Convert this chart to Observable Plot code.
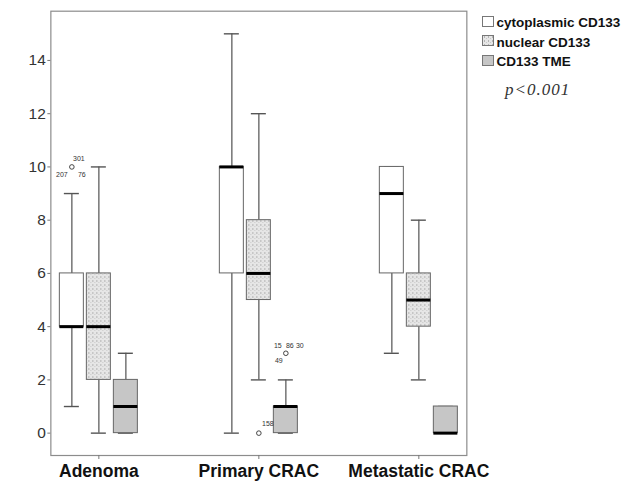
<!DOCTYPE html>
<html>
<head>
<meta charset="utf-8">
<script src="https://cdn.jsdelivr.net/npm/d3@7"></script>
<script src="https://cdn.jsdelivr.net/npm/@observablehq/plot@0.6"></script>
<style>
  html, body { margin: 0; padding: 0; background: #fff; }
  #wrap { position: relative; width: 639px; height: 481px; font-family: "Liberation Sans", Arial, sans-serif; }
  #legend { position: absolute; left: 482px; top: 13.3px; }
  .row { display: flex; align-items: flex-start; height: 19.5px; line-height: 19.5px; font-size: 13.5px; font-weight: bold; color: #111; white-space: nowrap; }
  .sw { width: 12px; height: 11px; margin-top: 2.7px; margin-right: 2.5px; box-sizing: border-box; border: 1px solid #777; }
  #pval { position: absolute; left: 505px; top: 80px; font-family: "Liberation Serif", "Times New Roman", serif; font-style: italic; font-size: 17px; line-height: 20px; letter-spacing: 1px; color: #333; }
</style>
</head>
<body>
<div id="wrap">
  <div id="chart"></div>
  <div id="legend"></div>
  <div id="pval">p&lt;0.001</div>
</div>
<script>
// Categories and series
const categories = ["Adenoma", "Primary CRAC", "Metastatic CRAC"];
const seriesNames = ["cytoplasmic CD133", "nuclear CD133", "CD133 TME"];

// Box-plot statistics per category, in series order
// [low whisker, Q1, median, Q3, high whisker]
const adenomaStats    = [[1, 4, 4, 6, 9], [0, 2, 4, 6, 10], [0, 0, 1, 2, 3]];
const primaryStats    = [[0, 6, 10, 10, 15], [2, 5, 6, 8, 12], [0, 0, 1, 1, 2]];
const metastaticStats = [[3, 6, 9, 10, 10], [2, 4, 5, 6, 8], [0, 0, 0, 1, 1]];

// Outliers: category, series, value, case labels
const outlierCats   = ["Adenoma", "Primary CRAC", "Primary CRAC"];
const outlierSeries = ["cytoplasmic CD133", "nuclear CD133", "CD133 TME"];
const outlierValues = [10, 0, 3];
const outlierIds    = [["301", "207", "76"], ["158"], ["15", "86", "30", "49"]];

const yTicks = [0, 2, 4, 6, 8, 10, 12, 14];
const fills = ["#ffffff", "url(#nucPattern)", "#c6c6c6"];

// Build tables
const statsByCat = [adenomaStats, primaryStats, metastaticStats];
const stats = [];
categories.forEach((cat, ci) => {
  seriesNames.forEach((s, si) => {
    const [low, q1, med, q3, high] = statsByCat[ci][si];
    stats.push({cat, series: s, low, q1, med, q3, high});
  });
});
const outliers = outlierCats.map((cat, i) => ({cat, series: outlierSeries[i], value: outlierValues[i], ids: outlierIds[i]}));
const labels = [];
outliers.forEach(o => o.ids.forEach((id, k) => labels.push({...o, id, k})));

const lab = (pred) => labels.filter(pred);
const labelStyle = {fx: "cat", x: "series", y: "value", text: "id", fontSize: 7, fill: "#333", fontFamily: "Liberation Sans, Arial, sans-serif"};

const plot = Plot.plot({
  width: 639,
  height: 481,
  marginLeft: 35,
  marginRight: 157.3,
  marginTop: 10.7,
  marginBottom: 26,
  style: {fontFamily: "Liberation Sans, Arial, sans-serif", background: "white"},
  fx: {domain: categories, paddingInner: 0.4, paddingOuter: 0.096, round: false, label: null},
  x: {domain: seriesNames, paddingInner: 0.111, paddingOuter: 0.333, round: false, axis: null},
  y: {domain: [-0.84, 15.85], label: null},
  color: {domain: seriesNames, range: fills, type: "ordinal"},
  marks: [
    Plot.frame({stroke: "#8c8c8c", strokeWidth: 1.2, facet: "super"}),
    Plot.axisY({ticks: yTicks, tickSize: 3, tickPadding: 2, fontSize: 15.5, color: "#333", label: null, stroke: "#777"}),
    Plot.axisFx({anchor: "bottom", tickSize: 4, tickPadding: 5, fontSize: 17.5, fontWeight: "bold", fill: "#111", stroke: "#777", label: null}),
    // whiskers
    Plot.ruleX(stats, {fx: "cat", x: "series", y1: "low", y2: "q1", stroke: "#6a6a6a", strokeWidth: 1.4}),
    Plot.ruleX(stats, {fx: "cat", x: "series", y1: "q3", y2: "high", stroke: "#6a6a6a", strokeWidth: 1.4}),
    Plot.tickY(stats, {fx: "cat", x: "series", y: "low", stroke: "#555", strokeWidth: 1.4, insetLeft: 4.5, insetRight: 4.5}),
    Plot.tickY(stats, {fx: "cat", x: "series", y: "high", stroke: "#555", strokeWidth: 1.4, insetLeft: 4.5, insetRight: 4.5}),
    // boxes
    Plot.barY(stats, {fx: "cat", x: "series", y1: "q1", y2: "q3", fill: "series", stroke: "#666", strokeWidth: 1}),
    // medians
    Plot.tickY(stats, {fx: "cat", x: "series", y: "med", stroke: "#000", strokeWidth: 3}),
    // outliers
    Plot.dot(outliers, {fx: "cat", x: "series", y: "value", r: 2.3, stroke: "#444", strokeWidth: 1, fill: "white"}),
    Plot.text(lab(d => d.cat === "Adenoma" && d.k === 0), {...labelStyle, dx: 7, dy: -8}),
    Plot.text(lab(d => d.cat === "Adenoma" && d.k === 1), {...labelStyle, dx: -10, dy: 8}),
    Plot.text(lab(d => d.cat === "Adenoma" && d.k === 2), {...labelStyle, dx: 10, dy: 8}),
    Plot.text(lab(d => d.series === "nuclear CD133"), {...labelStyle, dx: 9, dy: -9}),
    Plot.text(lab(d => d.series === "CD133 TME" && d.k === 0), {...labelStyle, dx: -8, dy: -8}),
    Plot.text(lab(d => d.series === "CD133 TME" && d.k === 1), {...labelStyle, dx: 4, dy: -8}),
    Plot.text(lab(d => d.series === "CD133 TME" && d.k === 2), {...labelStyle, dx: 14, dy: -8}),
    Plot.text(lab(d => d.series === "CD133 TME" && d.k === 3), {...labelStyle, dx: -7, dy: 7})
  ]
});

// pattern for the nuclear series
const svgSel = d3.select(plot);
const defs = svgSel.insert("defs", ":first-child");
const pat = defs.append("pattern").attr("id", "nucPattern").attr("patternUnits", "userSpaceOnUse").attr("width", 4).attr("height", 4);
pat.append("rect").attr("width", 4).attr("height", 4).attr("fill", "#e6e6e6");
pat.append("rect").attr("x", 1).attr("y", 0).attr("width", 1).attr("height", 2).attr("fill", "#b4b4b4");
pat.append("rect").attr("x", 3).attr("y", 2).attr("width", 1).attr("height", 1).attr("fill", "#c8c8c8");

document.getElementById("chart").appendChild(plot);

// legend
const legend = d3.select("#legend");
seriesNames.forEach((s, i) => {
  const row = legend.append("div").attr("class", "row");
  const sw = row.append("div").attr("class", "sw");
  if (i === 1) {
    const svg = sw.append("svg").attr("width", 10).attr("height", 9).style("display", "block");
    svg.append("rect").attr("width", 10).attr("height", 9).attr("fill", fills[i]);
  } else {
    sw.style("background", fills[i]);
  }
  row.append("span").text(s);
});
</script>
</body>
</html>
